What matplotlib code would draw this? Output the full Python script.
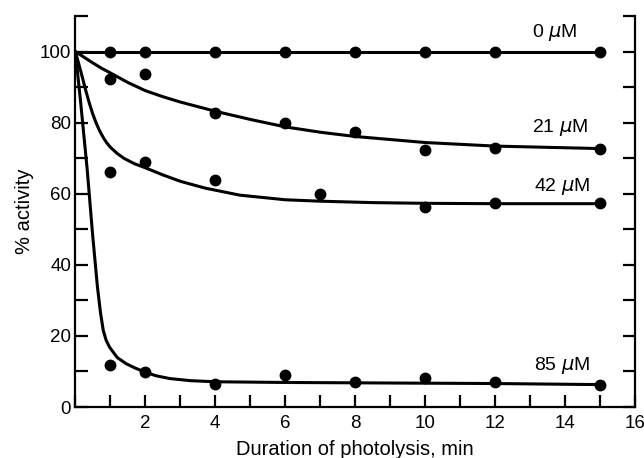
import matplotlib
matplotlib.use("Agg")
import matplotlib.pyplot as plt
from matplotlib.ticker import MultipleLocator, FuncFormatter

plt.rcParams['font.family'] = ['Liberation Sans', 'DejaVu Sans']
plt.rcParams['mathtext.fontset'] = 'dejavusans'

# measured points
t_pts = [1, 2, 4, 6, 8, 10, 12, 15]
t_pts_42 = [1, 2, 4, 7, 10, 12, 15]
y_0 = [100, 100, 100, 100, 100, 100, 100, 100]
y_21 = [92.4, 93.7, 82.7, 79.9, 77.4, 72.2, 72.9, 72.7]
y_42 = [66.0, 68.9, 63.9, 59.9, 56.2, 57.3, 57.3]
y_85 = [11.9, 9.8, 6.5, 9.0, 7.0, 8.2, 7.0, 6.3]

# fitted curves
c0_x = [0, 15]
c0_y = [100, 100]
c21_x = [0, 0.25, 0.5, 0.75, 1, 1.5, 2, 2.5, 3, 4, 5, 6, 7, 8, 10, 12, 15]
c21_y = [100, 98.4, 96.8, 95.3, 94.0, 91.3, 89.0, 87.3, 85.8, 83.2, 80.9, 78.8, 77.3, 76.1, 74.4, 73.4, 72.7]
c42_x = [0, 0.1, 0.2, 0.3, 0.4, 0.5, 0.6, 0.7, 0.8, 0.9, 1.0, 1.2, 1.4, 1.7, 2.0, 2.5, 3.0, 3.7, 4.7, 6.0, 7.0, 8.5, 10, 12, 15]
c42_y = [100, 96.5, 92.8, 89.0, 85.5, 82.4, 79.8, 77.6, 75.8, 74.3, 73.1, 71.3, 69.9, 68.4, 67.3, 65.3, 63.5, 61.6, 59.6, 58.3, 57.9, 57.5, 57.3, 57.2, 57.2]
c85_x = [0, 0.15, 0.34, 0.49, 0.63, 0.72, 0.8, 0.88, 0.98, 1.2, 1.45, 1.7, 2.0, 2.3, 2.7, 3.3, 4.0, 6, 8, 10, 12, 15]
c85_y = [100, 86.0, 66.8, 49.0, 34.0, 26.5, 21.5, 18.8, 16.8, 13.9, 12.2, 11.0, 9.8, 8.8, 8.0, 7.4, 7.1, 6.9, 6.8, 6.7, 6.6, 6.3]

labels = ['0 $\\mu$M', '21 $\\mu$M', '42 $\\mu$M', '85 $\\mu$M']
label_xy = [(13.7, 105.3), (13.85, 78.5), (13.9, 62.0), (13.9, 11.6)]

fig = plt.figure(figsize=(6.44, 4.58), dpi=100)
ax = fig.add_axes([75.3/644, (458-407)/458, 560/644, 391/458])

for cx, cy in [(c0_x, c0_y), (c21_x, c21_y), (c42_x, c42_y), (c85_x, c85_y)]:
    ax.plot(cx, cy, color='black', lw=2.2, solid_joinstyle='round', solid_capstyle='round')

for xs, ys in [(t_pts, y_0), (t_pts, y_21), (t_pts_42, y_42), (t_pts, y_85)]:
    ax.plot(xs, ys, 'o', color='black', ms=7.5, ls='none')

for lab, (lx, ly) in zip(labels, label_xy):
    ax.text(lx, ly, lab, ha='center', va='center', fontsize=14)

ax.set_xlim(0, 16)
ax.set_ylim(0, 110)
ax.spines['top'].set_visible(False)
for s in ['left', 'right', 'bottom']:
    ax.spines[s].set_linewidth(1.6)

ax.xaxis.set_major_locator(MultipleLocator(1))
ax.xaxis.set_major_formatter(FuncFormatter(lambda v, p: f"{int(v)}" if (v % 2 == 0 and v > 0) else ""))
ax.yaxis.set_major_locator(MultipleLocator(10))
ax.yaxis.set_major_formatter(FuncFormatter(lambda v, p: f"{int(v)}" if (v % 20 == 0 and v <= 100) else ""))

ax.tick_params(axis='both', direction='in', length=9, width=1.6, labelsize=13.5)
ax.tick_params(axis='y', right=True, left=True, pad=3)
ax.tick_params(axis='x', top=False, pad=5.5)

ax.set_xlabel('Duration of photolysis, min', fontsize=14.5, labelpad=6)
ax.set_ylabel('% activity', fontsize=14.5, labelpad=4)

fig.savefig('out.png', dpi=100)
